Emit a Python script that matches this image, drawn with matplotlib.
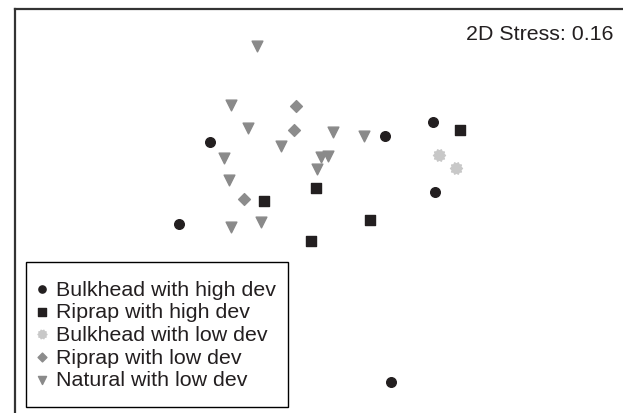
import matplotlib
matplotlib.use('Agg')
import matplotlib.pyplot as plt
import numpy as np
from matplotlib.path import Path
from matplotlib.patches import Rectangle

plt.rcParams['font.family'] = ['Liberation Sans', 'DejaVu Sans']

# nMDS ordination scores (MDS1, MDS2) per group
bulk_high_x = [-0.90, 0.85, -1.21, 1.33, 1.35, 0.91]
bulk_high_y = [0.57, 0.63, -0.25, 0.77, 0.07, -1.83]
rip_high_x = [0.16, -0.36, 0.70, 0.11, 1.60]
rip_high_y = [0.11, -0.02, -0.21, -0.42, 0.69]
bulk_low_x = [1.39, 1.56]
bulk_low_y = [0.44, 0.31]
rip_low_x = [-0.04, -0.06, -0.56]
rip_low_y = [0.93, 0.69, 0.00]
nat_low_x = [-0.43, -0.69, -0.52, 0.33, 0.64, -0.19, -0.76, 0.21, 0.28, 0.17, -0.71, -0.39, -0.69]
nat_low_y = [1.53, 0.94, 0.71, 0.67, 0.63, 0.53, 0.41, 0.42, 0.43, 0.30, 0.19, -0.23, -0.28]

labels = ['Bulkhead with high dev', 'Riprap with high dev', 'Bulkhead with low dev',
          'Riprap with low dev', 'Natural with low dev']
stress = 0.16

# bumpy round marker for the low-dev bulkhead group
n = 20
ang = np.linspace(0, 2 * np.pi, n, endpoint=False)
rad = np.where(np.arange(n) % 2 == 0, 1.0, 0.75)
verts = np.column_stack([rad * np.cos(ang), rad * np.sin(ang)])
verts = np.vstack([verts, verts[:1]])
flower = Path(verts, closed=True)

W, H = 623, 414
fig = plt.figure(figsize=(W / 100, H / 100), dpi=100)
ax = fig.add_axes([15 / W, 0, 1 - 15 / W, 1 - 10 / H])

dark = '#231f20'
ax.scatter(bulk_high_x, bulk_high_y, s=48, marker='o', color=dark, label=labels[0], zorder=3)
ax.scatter(rip_high_x, rip_high_y, s=48, marker='s', color=dark, label=labels[1], zorder=3)
ax.scatter(bulk_low_x, bulk_low_y, s=75, marker=flower, color='#c8c8c8', label=labels[2], zorder=3)
ax.scatter(rip_low_x, rip_low_y, s=36, marker='D', color='#8c8c8c', label=labels[3], zorder=3)
ax.scatter(nat_low_x, nat_low_y, s=60, marker='v', color='#8a8a8a', label=labels[4], zorder=3)

ax.set_xlim(-2.85, 3.23)
ax.set_ylim(-2.14, 1.90)
ax.set_xticks([])
ax.set_yticks([])
for side in ['right', 'bottom']:
    ax.spines[side].set_visible(False)
for side in ['left', 'top']:
    ax.spines[side].set_linewidth(1.6)
    ax.spines[side].set_color('#333333')

ax.text(0.985, 0.94, '2D Stress: %.2f' % stress, transform=ax.transAxes,
        ha='right', va='center', fontsize=15.4, color=dark)

leg = ax.legend(loc='upper left', bbox_to_anchor=(19 / W, 1 - 263 / H),
                bbox_transform=fig.transFigure, fontsize=15.4, frameon=False,
                markerscale=0.75, handlelength=0.5, handletextpad=0.4,
                labelspacing=0.17, borderpad=0.83, borderaxespad=0)
for t in leg.get_texts():
    t.set_color(dark)

# legend box
fig.patches.append(Rectangle((26 / W, 1 - 408 / H), 262 / W, 145 / H,
                             transform=fig.transFigure, fill=False,
                             edgecolor='black', linewidth=1.0, zorder=5))

fig.savefig('out.png', dpi=100)
